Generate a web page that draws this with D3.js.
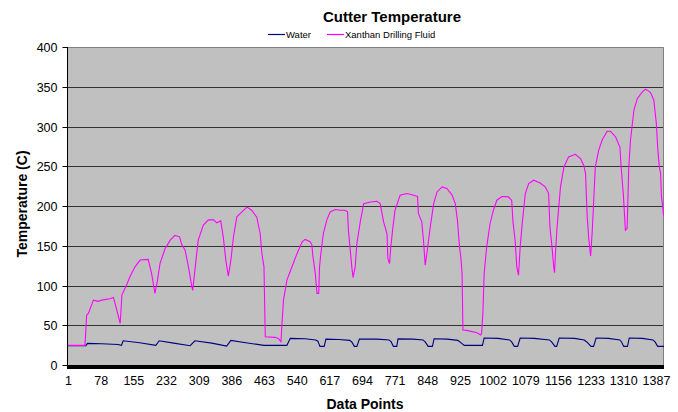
<!DOCTYPE html>
<html><head><meta charset="utf-8">
<script src="https://cdn.jsdelivr.net/npm/d3@7/dist/d3.min.js"></script>
<style>html,body{margin:0;padding:0;background:#fff}svg{display:block}text{font-family:"Liberation Sans",Arial,sans-serif}</style>
</head><body>
<svg id="c" width="678" height="412"></svg>
<script>
const title = "Cutter Temperature";
const xTitle = "Data Points";
const yTitle = "Temperature (C)";
const seriesNames = ["Water", "Xanthan Drilling Fluid"];
const seriesColors = ["#000080", "#FF00FF"];
const nPoints = 1406;
const xTickLabels = [1, 78, 155, 232, 309, 386, 463, 540, 617, 694, 771, 848, 925, 1002, 1079, 1156, 1233, 1310, 1387];
const yTicks = [0, 50, 100, 150, 200, 250, 300, 350, 400];

const waterIdx = [1,43,47,80,119,127,131,170,208,216,250,289,300,340,375,385,420,463,517,525,560,585,590,595,605,609,640,665,670,676,682,688,730,758,763,768,776,779,815,838,843,850,860,864,895,920,925,935,978,982,1015,1042,1047,1053,1061,1067,1100,1136,1141,1149,1153,1159,1195,1218,1224,1234,1240,1246,1275,1302,1306,1311,1320,1324,1355,1380,1385,1391,1406];
const waterVal = [24.3,24.3,27.2,26.8,25.8,24.7,30.5,28,24.7,30.5,27.5,24.3,30.5,27.5,23.8,31,28,24.7,24.7,33.5,33,31.5,30,23.4,23.4,32.5,32,31,29,23.4,23.4,32.5,32.5,31.5,29,23.4,23.4,32.8,32.5,31.5,29,23.4,23.4,33,32.5,31,29,24.7,24.7,33.9,33.5,31.5,29,23.4,23.4,34,33.5,31.5,29,23.4,23.4,34,33.5,31.5,29,23.4,23.4,34,33.5,31.5,29,23.4,23.4,34,33.5,31.5,29,23.4,23.4];

const xanIdx = [1,41,45,49,61,72,80,100,108,112,124,128,139,147,159,171,190,198,206,212,218,230,242,253,264,269,277,285,293,295,301,308,320,332,344,352,361,367,373,379,385,391,399,411,423,434,446,454,458,463,466,489,497,503,505,509,517,529,541,553,560,572,576,578,584,588,592,594,597,603,611,619,631,643,654,660,662,666,670,673,678,682,690,698,714,729,737,745,753,755,759,762,767,772,784,800,816,825,827,835,839,843,847,855,863,871,883,894,906,914,919,924,927,930,932,941,965,974,976,979,982,988,996,1004,1012,1024,1039,1047,1050,1055,1059,1063,1067,1071,1079,1087,1099,1114,1126,1134,1137,1142,1146,1148,1150,1154,1162,1170,1181,1197,1209,1217,1221,1225,1229,1233,1237,1244,1252,1260,1272,1280,1292,1302,1305,1310,1313,1315,1319,1323,1327,1335,1343,1354,1362,1374,1382,1388,1391,1395,1398,1400,1402,1405];
const xanVal = [24.7,24.7,62.8,65,81.6,80,81.6,83.3,85,77.5,52.3,88,100.5,111,123.5,132,132.8,115.2,90,106.8,127.8,146.6,157,163,161.2,152,144.5,123.5,98.4,94,123.5,157,176,182.6,182.6,178.8,181.3,161.2,131.9,111.8,132,161,186.3,192.6,198.6,194.7,186,165.4,140.3,123.5,35.6,34.8,33.5,29.3,48.1,81.7,106.8,123.5,140.3,155,158,155,150.8,138.2,115,90,90,123.5,140,165.4,182.2,192.6,195.6,194.7,194.7,192.6,169.6,146.6,123.5,110,123.5,152.9,180,203,205,206,203,180,165,134,127.7,148.6,173.7,194.7,213.6,215.7,213.6,212,190.6,180,157,125.6,140,173.7,203,217.7,224,222,214,203,182,148.6,136,115,44,43.5,40.6,37.7,40,64.9,115,148.6,178,195,207.3,212,211.5,207,180,157,123.5,113,148.6,174,215.7,228.2,232.4,229,224,216,174,148.6,123.5,116,140,174,224,249,261.7,265,259.6,251,240.8,186,157,137,169.6,249,270,282.7,294,294,286.8,274.2,249,215.7,188.4,169.6,171.7,249,282.7,320.4,335,343,347,343,333,303.6,274,249,241,211.4,203,188];

const water = waterIdx.map((d, i) => ({x: d, y: waterVal[i]}));
const xan = xanIdx.map((d, i) => ({x: d, y: xanVal[i]}));

const L = 68, R = 664, T = 47, B = 365;
const svg = d3.select("#c");
const x = d3.scaleLinear().domain([1, nPoints]).range([L, R]);
const y = d3.scaleLinear().domain([0, 400]).range([B, T]);
const py = v => Math.round(y(v)) + 0.5;

svg.append("rect").attr("x", L).attr("y", T).attr("width", R - L).attr("height", B - T).attr("fill", "#C0C0C0");

// grid lines
svg.append("g").selectAll("line").data(yTicks.filter(v => v > 0 && v < 400)).join("line")
  .attr("x1", L).attr("x2", R).attr("y1", py).attr("y2", py)
  .attr("stroke", "#333").attr("stroke-width", 1);
// border top & right
svg.append("path").attr("d", `M${L},${T + 0.5}H${R - 0.5}V${B}`).attr("fill", "none").attr("stroke", "#808080");

const line = d3.line().x(d => x(d.x)).y(d => y(d.y));
svg.append("path").datum(water).attr("d", line).attr("fill", "none").attr("stroke", seriesColors[0]).attr("stroke-width", 1.1);
svg.append("path").datum(xan).attr("d", line).attr("fill", "none").attr("stroke", seriesColors[1]).attr("stroke-width", 1.1);

// y axis
const yAxis = d3.axisLeft(y).tickValues(yTicks).tickSize(5).tickPadding(5).tickFormat(d3.format("d"));
const gy = svg.append("g").attr("transform", `translate(${L - 0.5},0)`).call(yAxis);
gy.select(".domain").attr("stroke", "#000").attr("d", `M0,${T}V${B}`);
gy.selectAll(".tick").attr("transform", d => `translate(0,${py(d)})`);
gy.selectAll(".tick line").attr("stroke", "#000");
gy.selectAll(".tick text").attr("font-size", 12.5).attr("fill", "#000").attr("font-family", "Liberation Sans, Arial, sans-serif");

// x axis: dense category ticks form a black band
svg.append("rect").attr("x", L - 1).attr("y", B).attr("width", R - L + 1).attr("height", 4).attr("fill", "#000");
const xAxis = d3.axisBottom(x).tickValues(xTickLabels).tickSize(0).tickPadding(10).tickFormat(d3.format("d"));
const gx = svg.append("g").attr("transform", `translate(0,${B + 1})`).call(xAxis);
gx.select(".domain").remove();
gx.selectAll(".tick text").attr("font-size", 12.5).attr("fill", "#000").attr("font-family", "Liberation Sans, Arial, sans-serif");

// titles
svg.append("text").attr("x", 392).attr("y", 22).attr("text-anchor", "middle").attr("font-size", 15).attr("font-weight", "bold").text(title);
svg.append("text").attr("x", 365).attr("y", 409).attr("text-anchor", "middle").attr("font-size", 14).attr("font-weight", "bold").text(xTitle);
svg.append("text").attr("transform", "translate(27,204) rotate(-90)").attr("text-anchor", "middle").attr("font-size", 14).attr("font-weight", "bold").text(yTitle);

// legend
const legX = [268, 327];
seriesNames.forEach((n, i) => {
  svg.append("line").attr("x1", legX[i]).attr("x2", legX[i] + 17).attr("y1", 34.5).attr("y2", 34.5).attr("stroke", seriesColors[i]).attr("stroke-width", 1.2);
  svg.append("text").attr("x", legX[i] + 18).attr("y", 37.5).attr("font-size", 9.5).text(n);
});
</script>
</body></html>
